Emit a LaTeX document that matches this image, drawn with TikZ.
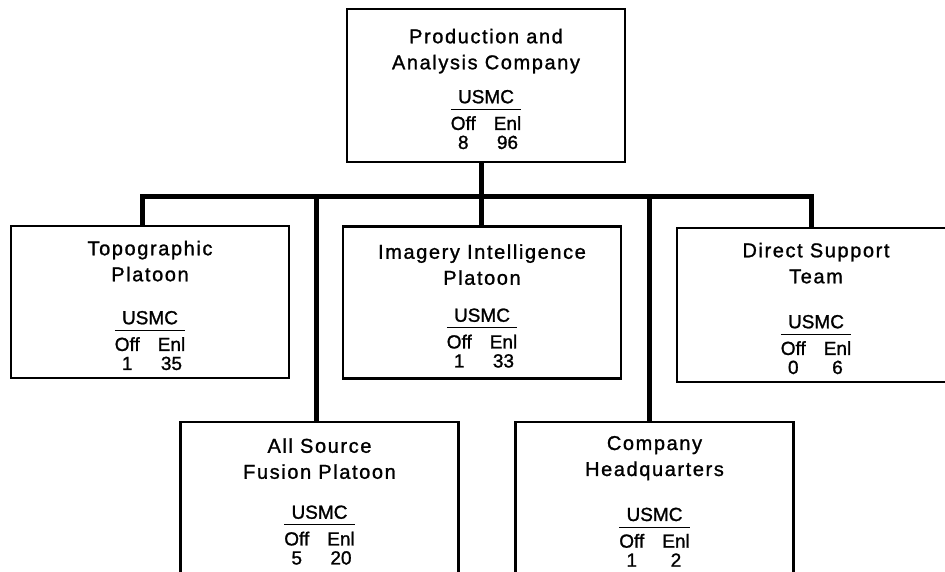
\documentclass[tikz,border=0pt]{standalone}
\usepackage{fontspec}
\setmainfont{Liberation Sans}[FakeBold=1.2]
\newfontfamily\titlefont{Liberation Sans}[LetterSpace=8, FakeBold=1.2]
\newcommand{\usmc}[2]{%
  {\normalfont\fontsize{19}{19}\selectfont
  \setlength{\arrayrulewidth}{1pt}%
  \begin{tabular}[t]{@{}c@{\hspace{18pt}}c@{}}
    \multicolumn{2}{@{}c@{}}{USMC}\\ \hline
    \rule{0pt}{20pt}Off & Enl\\
    #1 & #2
  \end{tabular}}}

\begin{document}
\begin{tikzpicture}[
        x=1pt, y=-1pt,
        unit/.style={draw, line width=2.4pt, align=center, inner sep=0pt,
                minimum width=278pt, minimum height=152pt, text depth=39pt,
                font=\titlefont\fontsize{20}{26}\selectfont},
        link/.style={line width=5pt}
    ]
    \useasboundingbox (0,0) rectangle (945,571);
    \clip (0,0) rectangle (945,571);

    \node[unit, minimum height=153pt] (pac) at (486,85.5) {Production and\\Analysis Company\\[8pt]\usmc{8}{96}};
    \node[unit] (topo) at (150,302) {Topographic\\Platoon\\[17pt]\usmc{1}{35}};
    \node[unit] (imint) at (482,302.5) {Imagery Intelligence\\Platoon\\[11pt]\usmc{1}{33}};
    \node[unit, minimum height=154pt] (dst) at (816,305) {Direct Support\\Team\\[19pt]\usmc{0}{6}};
    \node[unit] (asf) at (319.5,498) {All Source\\Fusion Platoon\\[14pt]\usmc{5}{20}};
    \node[unit] (hq) at (654.5,498) {Company\\Headquarters\\[19pt]\usmc{1}{2}};

    \coordinate (bus) at (481,196);
    \draw[link] (pac.south -| bus) -- (imint.north -| bus);
    \draw[link] ([xshift=-8pt]topo.north) |- (bus) -| ([xshift=-5pt]dst.north);
    \draw[link] ([xshift=-3pt]asf.north) |- (bus);
    \draw[link] ([xshift=-5pt]hq.north) |- (bus);
\end{tikzpicture}
\end{document}
